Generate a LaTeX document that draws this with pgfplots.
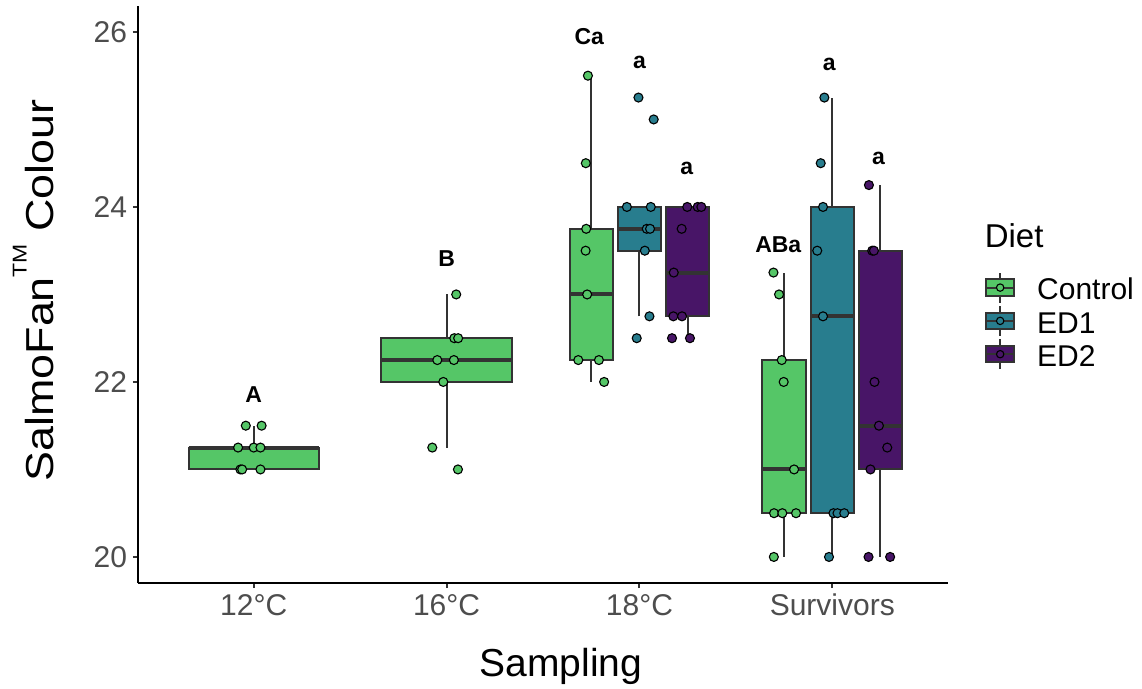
\documentclass[border=0pt]{standalone}
\usepackage{graphicx}
\usepackage{pgfplots}
\pgfplotsset{compat=1.18}
\usepackage{fontspec}
\setmainfont{Liberation Sans}
\definecolor{cCtrl}{HTML}{55C667}
\definecolor{cEDa}{HTML}{287D8E}
\definecolor{cEDb}{HTML}{481567}
\definecolor{cLine}{HTML}{333333}
\definecolor{cTick}{HTML}{4D4D4D}
\pgfplotsset{
  pts/.style={only marks, mark=*, mark size=2.25pt, forget plot,
    mark options={draw=black, line width=0.55pt, fill=#1}},
}
% box: #1 colour, #2 left x, #3 centre x, #4 right x,
%      #5 lower whisker, #6 lower quartile, #7 median, #8 upper quartile, #9 upper whisker
\newcommand{\bxp}[9]{%
  \addplot[cLine, line width=1pt, forget plot] coordinates {(#3,#5) (#3,#6)};
  \addplot[cLine, line width=1pt, forget plot] coordinates {(#3,#8) (#3,#9)};
  \addplot[fill=#1, draw=cLine, line width=1pt, forget plot] coordinates {(#2,#6) (#4,#6) (#4,#8) (#2,#8)} -- cycle;
  \addplot[cLine, line width=2pt, forget plot] coordinates {(#2,#7) (#4,#7)};
}
\newcommand{\lbl}{\fontsize{11.5}{13}\selectfont\bfseries}
\begin{document}
\begin{tikzpicture}
\useasboundingbox (-69pt,-52.9pt) rectangle (502pt,291.6pt);
\begin{axis}[
  at={(0,0)}, anchor=south west,
  scale only axis, width=405pt, height=288.75pt,
  xmin=0.4, xmax=4.6, ymin=19.7, ymax=26.3,
  axis lines=left, axis line style={-, line width=1pt, black},
  xtick={1,2,3,4}, xticklabels={12°C,16°C,18°C,Survivors},
  ytick={20,22,24,26},
  tick align=outside, major tick length=2.5pt,
  tick style={cLine, line width=1pt},
  ticklabel style={font=\fontsize{15}{18}\selectfont, text=cTick},
  /pgf/number format/assume math mode=true,
  xticklabel style={anchor=base, inner sep=0pt, yshift=-13.6pt},
  yticklabel style={anchor=east, inner sep=0pt, xshift=-2.8pt},
  xlabel={Sampling},
  xlabel style={at={(axis description cs:0.5222,-0.1607)}, anchor=base, inner sep=0pt, font=\fontsize{19.5}{22}\selectfont},
  ylabel={\scalebox{1.15}[1]{SalmoFan\raisebox{13.3pt}{\fontsize{10}{12}\selectfont TM} Colour}},
  ylabel style={at={(axis description cs:-0.1046,0.507)}, anchor=base, inner sep=0pt, font=\fontsize{19.5}{22}\selectfont},
  clip=false,
  legend cell align=left,
  legend style={draw=none, fill=none, inner sep=0pt, outer sep=0pt,
    at={(axis description cs:1.0459,0.5407)}, anchor=north west,
    column sep=11pt, row sep=0pt,
    nodes={inner sep=0pt, text height=14.525pt, text depth=2.125pt, font=\fontsize{15}{18}\selectfont}},
]
% ---- boxes
\bxp{cCtrl}{0.6625}{1}{1.3375}{21}{21}{21.25}{21.25}{21.5}
\bxp{cCtrl}{1.6625}{2}{2.3375}{21.25}{22}{22.25}{22.5}{23}
\bxp{cCtrl}{2.6375}{2.75}{2.8625}{22}{22.25}{23}{23.75}{25.5}
\bxp{cEDa}{2.8875}{3}{3.1125}{22.75}{23.5}{23.75}{24}{24}
\bxp{cEDb}{3.1375}{3.25}{3.3625}{22.5}{22.75}{23.25}{24}{24}
\bxp{cCtrl}{3.6375}{3.75}{3.8625}{20}{20.5}{21}{22.25}{23.25}
\bxp{cEDa}{3.8875}{4}{4.1125}{20}{20.5}{22.75}{24}{25.25}
\bxp{cEDb}{4.1375}{4.25}{4.3625}{20}{21}{21.5}{23.5}{24.25}
% ---- points
\addplot[pts=cCtrl] coordinates {(0.959,21.5) (1.041,21.5) (0.919,21.25) (1.0,21.25) (1.035,21.25)
  (0.931,21.0) (0.940,21.0) (1.035,21.0)};
\addplot[pts=cCtrl] coordinates {(2.050,23.0) (2.040,22.5) (2.060,22.5) (1.952,22.25) (2.038,22.25)
  (1.983,22.0) (1.926,21.25) (2.059,21.0)};
\addplot[pts=cCtrl] coordinates {(2.733,25.5) (2.722,24.5) (2.724,23.75) (2.721,23.5) (2.729,23.0)
  (2.683,22.25) (2.790,22.25) (2.817,22.0)};
\addplot[pts=cEDa] coordinates {(2.995,25.25) (3.074,25.0) (2.935,24.0) (3.059,24.0) (3.038,23.75)
  (3.055,23.75) (3.028,23.5) (3.052,22.75) (2.986,22.5)};
\addplot[pts=cEDb] coordinates {(3.248,24.0) (3.302,24.0) (3.321,24.0) (3.219,23.75) (3.178,23.25)
  (3.176,22.75) (3.221,22.75) (3.169,22.5) (3.262,22.5)};
\addplot[pts=cCtrl] coordinates {(3.695,23.25) (3.724,23.0) (3.738,22.25) (3.748,22.0) (3.802,21.0)
  (3.698,20.5) (3.741,20.5) (3.812,20.5) (3.697,20.0)};
\addplot[pts=cEDa] coordinates {(3.959,25.25) (3.940,24.5) (3.952,24.0) (3.922,23.5) (3.952,22.75)
  (4.006,20.5) (4.027,20.5) (4.062,20.5) (3.983,20.0)};
\addplot[pts=cEDb] coordinates {(4.190,24.25) (4.207,23.5) (4.216,23.5) (4.219,22.0) (4.242,21.5)
  (4.285,21.25) (4.198,21.0) (4.188,20.0) (4.300,20.0)};
% ---- letters
\node[anchor=base, inner sep=0pt, font=\lbl] at (axis cs:1.0,21.763) {A};
\node[anchor=base, inner sep=0pt, font=\lbl] at (axis cs:2.0,23.318) {B};
\node[anchor=base, inner sep=0pt, font=\lbl] at (axis cs:2.74,25.851) {Ca};
\node[anchor=base, inner sep=0pt, font=\lbl] at (axis cs:3.0,25.586) {a};
\node[anchor=base, inner sep=0pt, font=\lbl] at (axis cs:3.245,24.374) {a};
\node[anchor=base, inner sep=0pt, font=\lbl] at (axis cs:3.72,23.48) {ABa};
\node[anchor=base, inner sep=0pt, font=\lbl] at (axis cs:3.985,25.562) {a};
\node[anchor=base, inner sep=0pt, font=\lbl] at (axis cs:4.24,24.49) {a};
% ---- legend
\addlegendimage{legend image code/.code={
  \draw[cLine, line width=0.8pt] (7pt,-7.5pt) -- (7pt,7.5pt);
  \draw[fill=cCtrl, draw=cLine, line width=1pt] (0pt,-4.15pt) rectangle (14pt,4.15pt);
  \draw[cLine, line width=1pt] (0pt,0pt) -- (14pt,0pt);
  \draw[fill=cCtrl, draw=black, line width=0.55pt] (7pt,0pt) circle (1.85pt);}}
\addlegendentry{Control}
\addlegendimage{legend image code/.code={
  \draw[cLine, line width=0.8pt] (7pt,-7.5pt) -- (7pt,7.5pt);
  \draw[fill=cEDa, draw=cLine, line width=1pt] (0pt,-4.15pt) rectangle (14pt,4.15pt);
  \draw[cLine, line width=1pt] (0pt,0pt) -- (14pt,0pt);
  \draw[fill=cEDa, draw=black, line width=0.55pt] (7pt,0pt) circle (1.85pt);}}
\addlegendentry{ED1}
\addlegendimage{legend image code/.code={
  \draw[cLine, line width=0.8pt] (7pt,-7.5pt) -- (7pt,7.5pt);
  \draw[fill=cEDb, draw=cLine, line width=1pt] (0pt,-4.15pt) rectangle (14pt,4.15pt);
  \draw[cLine, line width=1pt] (0pt,0pt) -- (14pt,0pt);
  \draw[fill=cEDb, draw=black, line width=0.55pt] (7pt,0pt) circle (1.85pt);}}
\addlegendentry{ED2}
\end{axis}
\node[anchor=base west, inner sep=0pt, font=\fontsize{16.5}{19}\selectfont] at (423.2pt,168pt) {Diet};
\end{tikzpicture}
\end{document}
